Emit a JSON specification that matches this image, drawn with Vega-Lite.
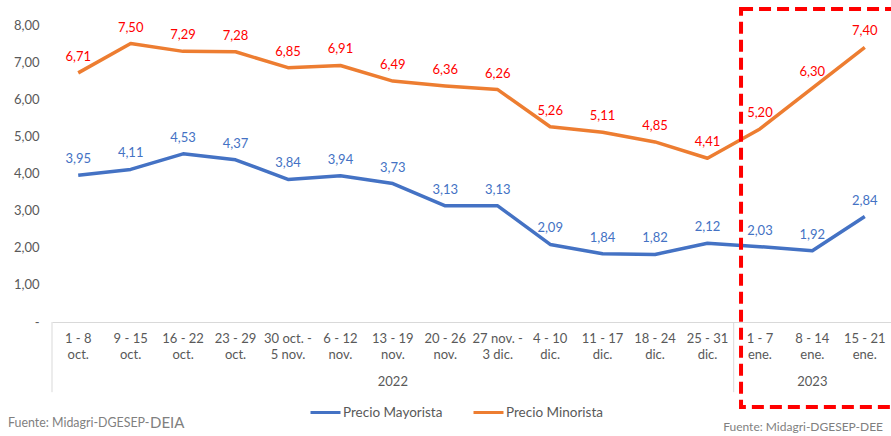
{
  "$schema": "https://vega.github.io/schema/vega-lite/v6.json",
  "width": 839,
  "height": 297,
  "autosize": "none",
  "padding": {"left": 52, "top": 25, "right": 0, "bottom": 114},
  "config": {
    "locale": {"number": {"decimal": ",", "thousands": ".", "grouping": [3], "currency": ["", ""]}},
    "font": "Lato",
    "view": {"stroke": null},
    "axisY": {
      "title": null,
      "values": [0, 1, 2, 3, 4, 5, 6, 7, 8],
      "format": ".2f",
      "labelExpr": "datum.value == 0 ? '-' : datum.label",
      "labelOverlap": false,
      "grid": false,
      "domain": false,
      "ticks": false,
      "labelFontSize": 13,
      "labelColor": "#595959",
      "labelPadding": 13
    }
  },
  "datasets": {
    "precios": [
      {"semana": "1  - 8|oct.", "serie": "Precio Mayorista", "precio": 3.95},
      {"semana": "9 - 15|oct.", "serie": "Precio Mayorista", "precio": 4.11},
      {"semana": "16 - 22|oct.", "serie": "Precio Mayorista", "precio": 4.53},
      {"semana": "23 - 29|oct.", "serie": "Precio Mayorista", "precio": 4.37},
      {"semana": "30 oct. -|5 nov.", "serie": "Precio Mayorista", "precio": 3.84},
      {"semana": "6 - 12|nov.", "serie": "Precio Mayorista", "precio": 3.94},
      {"semana": "13 - 19|nov.", "serie": "Precio Mayorista", "precio": 3.73},
      {"semana": "20 - 26|nov.", "serie": "Precio Mayorista", "precio": 3.13},
      {"semana": "27 nov. -|3 dic.", "serie": "Precio Mayorista", "precio": 3.13},
      {"semana": "4 -  10|dic.", "serie": "Precio Mayorista", "precio": 2.09},
      {"semana": "11 - 17|dic.", "serie": "Precio Mayorista", "precio": 1.84},
      {"semana": "18 - 24|dic.", "serie": "Precio Mayorista", "precio": 1.82},
      {"semana": "25 - 31|dic.", "serie": "Precio Mayorista", "precio": 2.12},
      {"semana": "1 -  7|ene.", "serie": "Precio Mayorista", "precio": 2.03},
      {"semana": "8 - 14|ene.", "serie": "Precio Mayorista", "precio": 1.92},
      {"semana": "15 - 21|ene.", "serie": "Precio Mayorista", "precio": 2.84},
      {"semana": "1  - 8|oct.", "serie": "Precio Minorista", "precio": 6.71},
      {"semana": "9 - 15|oct.", "serie": "Precio Minorista", "precio": 7.50},
      {"semana": "16 - 22|oct.", "serie": "Precio Minorista", "precio": 7.29},
      {"semana": "23 - 29|oct.", "serie": "Precio Minorista", "precio": 7.28},
      {"semana": "30 oct. -|5 nov.", "serie": "Precio Minorista", "precio": 6.85},
      {"semana": "6 - 12|nov.", "serie": "Precio Minorista", "precio": 6.91},
      {"semana": "13 - 19|nov.", "serie": "Precio Minorista", "precio": 6.49},
      {"semana": "20 - 26|nov.", "serie": "Precio Minorista", "precio": 6.36},
      {"semana": "27 nov. -|3 dic.", "serie": "Precio Minorista", "precio": 6.26},
      {"semana": "4 -  10|dic.", "serie": "Precio Minorista", "precio": 5.26},
      {"semana": "11 - 17|dic.", "serie": "Precio Minorista", "precio": 5.11},
      {"semana": "18 - 24|dic.", "serie": "Precio Minorista", "precio": 4.85},
      {"semana": "25 - 31|dic.", "serie": "Precio Minorista", "precio": 4.41},
      {"semana": "1 -  7|ene.", "serie": "Precio Minorista", "precio": 5.20},
      {"semana": "8 - 14|ene.", "serie": "Precio Minorista", "precio": 6.30},
      {"semana": "15 - 21|ene.", "serie": "Precio Minorista", "precio": 7.40}
    ],
    "separadores": [
      {"semana": "1  - 8|oct."},
      {"semana": "1 -  7|ene."}
    ],
    "anios": [
      {"semana": "13 - 19|nov.", "anio": "2022"},
      {"semana": "8 - 14|ene.", "anio": "2023"}
    ],
    "recuadro": [
      {"desde": "1 -  7|ene.", "hasta": "15 - 21|ene."}
    ],
    "fuentes": [
      {"semana": "1  - 8|oct.", "parte": "Fuente: Midagri-DGESEP-", "lado": "izquierda"},
      {"semana": "1  - 8|oct.", "parte": "DEIA", "lado": "izquierda"},
      {"semana": "15 - 21|ene.", "parte": "Fuente: Midagri-DGESEP-DEE", "lado": "derecha"}
    ]
  },
  "layer": [
    {
      "data": {"name": "precios"},
      "mark": {"type": "line", "strokeWidth": 3.5, "strokeJoin": "round"},
      "encoding": {
        "x": {
          "field": "semana",
          "type": "nominal",
          "sort": null,
          "scale": {
            "type": "band",
            "paddingInner": 0,
            "paddingOuter": 0,
            "domain": ["1  - 8|oct.", "9 - 15|oct.", "16 - 22|oct.", "23 - 29|oct.", "30 oct. -|5 nov.", "6 - 12|nov.", "13 - 19|nov.", "20 - 26|nov.", "27 nov. -|3 dic.", "4 -  10|dic.", "11 - 17|dic.", "18 - 24|dic.", "25 - 31|dic.", "1 -  7|ene.", "8 - 14|ene.", "15 - 21|ene."]
          },
          "axis": {
            "title": null,
            "labelExpr": "split(datum.label, '|')",
            "labelAngle": 0,
            "labelFontSize": 13,
            "labelColor": "#595959",
            "labelLineHeight": 16,
            "labelBaseline": "top",
            "labelPadding": 10,
            "ticks": false,
            "domainColor": "#D9D9D9",
            "domainWidth": 1
          }
        },
        "y": {
          "field": "precio",
          "type": "quantitative",
          "scale": {"domain": [0, 8], "nice": false, "zero": true}
        },
        "color": {
          "field": "serie",
          "type": "nominal",
          "scale": {"domain": ["Precio Mayorista", "Precio Minorista"], "range": ["#4472C4", "#ED7D31"]},
          "legend": {
            "orient": "none",
            "legendX": 257,
            "legendY": 371,
            "direction": "horizontal",
            "title": null,
            "symbolType": "stroke",
            "symbolStrokeWidth": 3,
            "symbolSize": 900,
            "labelFontSize": 13.5,
            "labelColor": "#595959",
            "labelOffset": 1,
            "columnPadding": 24
          }
        }
      }
    },
    {
      "data": {"name": "precios"},
      "transform": [{"filter": "datum.serie == 'Precio Mayorista'"}],
      "mark": {"type": "text", "dy": -16, "fontSize": 13, "color": "#4472C4"},
      "encoding": {
        "x": {"field": "semana", "type": "nominal"},
        "y": {"field": "precio", "type": "quantitative"},
        "text": {"field": "precio", "type": "quantitative", "format": ".2f"}
      }
    },
    {
      "data": {"name": "precios"},
      "transform": [{"filter": "datum.serie == 'Precio Minorista'"}],
      "mark": {"type": "text", "dy": -16, "fontSize": 13, "color": "#FF0000"},
      "encoding": {
        "x": {"field": "semana", "type": "nominal"},
        "y": {"field": "precio", "type": "quantitative"},
        "text": {"field": "precio", "type": "quantitative", "format": ".2f"}
      }
    },
    {
      "data": {"name": "separadores"},
      "mark": {"type": "rule", "color": "#D9D9D9", "strokeWidth": 1},
      "encoding": {
        "x": {"field": "semana", "type": "nominal", "bandPosition": 0},
        "y": {"datum": 0},
        "y2": {"datum": -1.89}
      }
    },
    {
      "data": {"name": "anios"},
      "mark": {"type": "text", "fontSize": 13, "color": "#595959"},
      "encoding": {
        "x": {"field": "semana", "type": "nominal"},
        "y": {"datum": -1.62},
        "text": {"field": "anio", "type": "nominal"}
      }
    },
    {
      "data": {"name": "recuadro"},
      "mark": {"type": "rect", "fill": null, "stroke": "#FF0000", "strokeWidth": 4, "strokeDash": [12, 6]},
      "encoding": {
        "x": {"field": "desde", "type": "nominal", "bandPosition": 0.14},
        "x2": {"field": "hasta", "bandPosition": 1.6},
        "y": {"datum": 8.43},
        "y2": {"datum": -2.29}
      }
    },
    {
      "data": {"name": "fuentes"},
      "transform": [{"filter": "datum.parte == 'Fuente: Midagri-DGESEP-'"}],
      "mark": {"type": "text", "align": "left", "dx": -44, "fontSize": 12.4, "color": "#7F7F7F"},
      "encoding": {
        "x": {"field": "semana", "type": "nominal", "bandPosition": 0},
        "y": {"datum": -2.72},
        "text": {"field": "parte", "type": "nominal"}
      }
    },
    {
      "data": {"name": "fuentes"},
      "transform": [{"filter": "datum.parte == 'DEIA'"}],
      "mark": {"type": "text", "align": "left", "dx": 98, "fontSize": 15, "color": "#7F7F7F"},
      "encoding": {
        "x": {"field": "semana", "type": "nominal", "bandPosition": 0},
        "y": {"datum": -2.72},
        "text": {"field": "parte", "type": "nominal"}
      }
    },
    {
      "data": {"name": "fuentes"},
      "transform": [{"filter": "datum.lado == 'derecha'"}],
      "mark": {"type": "text", "align": "right", "dx": -8, "fontSize": 12, "color": "#7F7F7F"},
      "encoding": {
        "x": {"field": "semana", "type": "nominal", "bandPosition": 1},
        "y": {"datum": -2.83},
        "text": {"field": "parte", "type": "nominal"}
      }
    }
  ]
}
